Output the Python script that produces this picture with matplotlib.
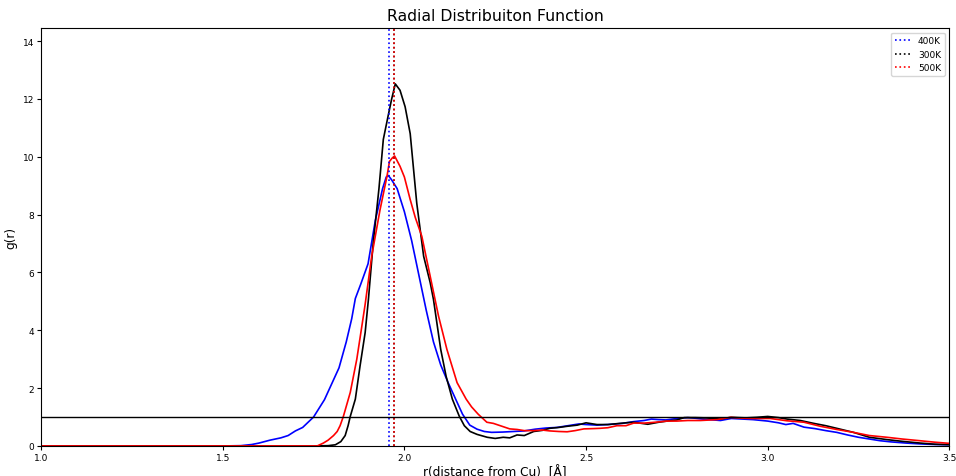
import matplotlib
matplotlib.use("Agg")
import matplotlib.pyplot as plt

# g(r), one (r, g) list per temperature
r_400 = [1.00, 1.50, 1.55, 1.58, 1.60, 1.63, 1.66, 1.68, 1.70, 1.72,
         1.75, 1.78, 1.80, 1.82, 1.84, 1.855, 1.865, 1.88, 1.90, 1.92,
         1.94, 1.95, 1.956, 1.965, 1.98, 2.00, 2.02, 2.04, 2.06, 2.08,
         2.10, 2.12, 2.14, 2.16, 2.18, 2.20, 2.22, 2.24, 2.27, 2.30,
         2.33, 2.36, 2.39, 2.42, 2.45, 2.48, 2.50, 2.53, 2.56, 2.60,
         2.63, 2.66, 2.68, 2.70, 2.72, 2.75, 2.78, 2.80, 2.82, 2.85,
         2.87, 2.90, 2.93, 2.96, 3.00, 3.03, 3.05, 3.07, 3.10, 3.13,
         3.16, 3.19, 3.22, 3.25, 3.28, 3.31, 3.34, 3.38, 3.42, 3.46,
         3.50]
g_400 = [0, 0, 0.01, 0.05, 0.1, 0.2, 0.28, 0.36, 0.52, 0.64,
         1.0, 1.6, 2.15, 2.7, 3.6, 4.4, 5.1, 5.6, 6.3, 7.8,
         8.9, 9.3, 9.35, 9.2, 8.9, 8.1, 7.1, 5.9, 4.7, 3.6,
         2.8, 2.2, 1.65, 1.1, 0.72, 0.58, 0.5, 0.47, 0.48, 0.5,
         0.52, 0.58, 0.62, 0.64, 0.7, 0.76, 0.74, 0.72, 0.74, 0.78,
         0.84, 0.88, 0.93, 0.91, 0.9, 0.95, 0.98, 0.96, 0.93, 0.9,
         0.88, 0.95, 0.93, 0.91, 0.86, 0.8, 0.74, 0.78, 0.65, 0.6,
         0.53, 0.47, 0.38, 0.3, 0.24, 0.18, 0.14, 0.1, 0.07, 0.05,
         0.04]

r_300 = [1.00, 1.75, 1.79, 1.81, 1.825, 1.837, 1.845, 1.851, 1.865, 1.878,
         1.892, 1.901, 1.914, 1.93, 1.942, 1.955, 1.965, 1.975, 1.988, 2.002,
         2.016, 2.034, 2.053, 2.071, 2.08, 2.10, 2.115, 2.132, 2.151, 2.165,
         2.181, 2.20, 2.228, 2.25, 2.272, 2.29, 2.31, 2.33, 2.356, 2.38,
         2.40, 2.425, 2.448, 2.476, 2.50, 2.53, 2.56, 2.585, 2.61, 2.631,
         2.67, 2.70, 2.723, 2.75, 2.77, 2.80, 2.83, 2.87, 2.90, 2.94,
         2.97, 3.00, 3.03, 3.053, 3.09, 3.127, 3.16, 3.19, 3.236, 3.28,
         3.328, 3.37, 3.42, 3.46, 3.50]
g_300 = [0, 0, 0.01, 0.04, 0.15, 0.36, 0.7, 1.02, 1.62, 2.77,
         3.92, 5.07, 7.0, 8.9, 10.6, 11.4, 12.0, 12.52, 12.3, 11.73,
         10.8, 8.4, 6.56, 5.65, 5.07, 3.34, 2.4, 1.62, 1.03, 0.7,
         0.5, 0.4, 0.3, 0.26, 0.3, 0.28, 0.38, 0.36, 0.5, 0.54,
         0.61, 0.64, 0.68, 0.72, 0.8, 0.74, 0.74, 0.77, 0.8, 0.82,
         0.75, 0.82, 0.86, 0.9, 0.98, 0.98, 0.97, 0.93, 0.99, 0.97,
         0.99, 1.02, 0.98, 0.93, 0.88, 0.78, 0.7, 0.61, 0.47, 0.3,
         0.22, 0.16, 0.1, 0.06, 0.045]

r_500 = [1.00, 1.76, 1.777, 1.79, 1.805, 1.815, 1.823, 1.832, 1.851, 1.869,
         1.883, 1.892, 1.91, 1.933, 1.952, 1.959, 1.966, 1.973, 1.988, 2.00,
         2.016, 2.03, 2.048, 2.071, 2.094, 2.117, 2.145, 2.17, 2.185, 2.203,
         2.227, 2.245, 2.264, 2.29, 2.31, 2.33, 2.356, 2.38, 2.40, 2.425,
         2.448, 2.47, 2.494, 2.52, 2.539, 2.56, 2.585, 2.61, 2.631, 2.66,
         2.69, 2.723, 2.75, 2.78, 2.815, 2.86, 2.897, 2.93, 2.96, 3.007,
         3.053, 3.10, 3.145, 3.19, 3.236, 3.28, 3.328, 3.37, 3.42, 3.46,
         3.50]
g_500 = [0, 0, 0.1, 0.2, 0.36, 0.5, 0.7, 1.02, 1.85, 3.0,
         4.15, 4.9, 6.56, 8.17, 9.32, 9.84, 9.95, 10.03, 9.67, 9.3,
         8.52, 7.9, 7.25, 5.87, 4.49, 3.34, 2.19, 1.62, 1.35, 1.1,
         0.82, 0.78, 0.7, 0.59, 0.57, 0.53, 0.53, 0.55, 0.52, 0.5,
         0.49, 0.53, 0.59, 0.6, 0.61, 0.63, 0.7, 0.7, 0.79, 0.79,
         0.82, 0.86, 0.86, 0.88, 0.88, 0.91, 0.99, 0.96, 0.95, 0.95,
         0.87, 0.82, 0.68, 0.57, 0.47, 0.36, 0.30, 0.24, 0.18, 0.13,
         0.09]

# first peak positions (dotted markers)
peak_labels = ["400K", "300K", "500K"]
peak_r = [1.958, 1.972, 1.972]
peak_colors = ["blue", "black", "red"]

fig, ax = plt.subplots(figsize=(9.56, 4.77), dpi=100)
fig.subplots_adjust(left=0.043, right=0.993, bottom=0.063, top=0.939)

ax.plot(r_400, g_400, color="blue", lw=1.2)
ax.plot(r_300, g_300, color="black", lw=1.2)
ax.plot(r_500, g_500, color="red", lw=1.2)

for lab, pr, c in zip(peak_labels, peak_r, peak_colors):
    ax.axvline(pr, color=c, ls=":", lw=1.2, label=lab)

ax.axhline(1.0, color="black", lw=1.0)

ax.set_xlim(1.0, 3.5)
ax.set_ylim(0, 14.45)
ax.set_xticks([1.0, 1.5, 2.0, 2.5, 3.0, 3.5])
ax.set_yticks(range(0, 15, 2))
ax.tick_params(labelsize=6.5, length=3, pad=2)

ax.set_title("Radial Distribuiton Function", fontsize=11.3)
ax.set_xlabel("r(distance from Cu)  [Å]", fontsize=8.7, labelpad=2)
ax.set_ylabel("g(r)", fontsize=8.7)
ax.legend(loc="upper right", fontsize=6.5, handlelength=1.8)

plt.savefig("out.png")
